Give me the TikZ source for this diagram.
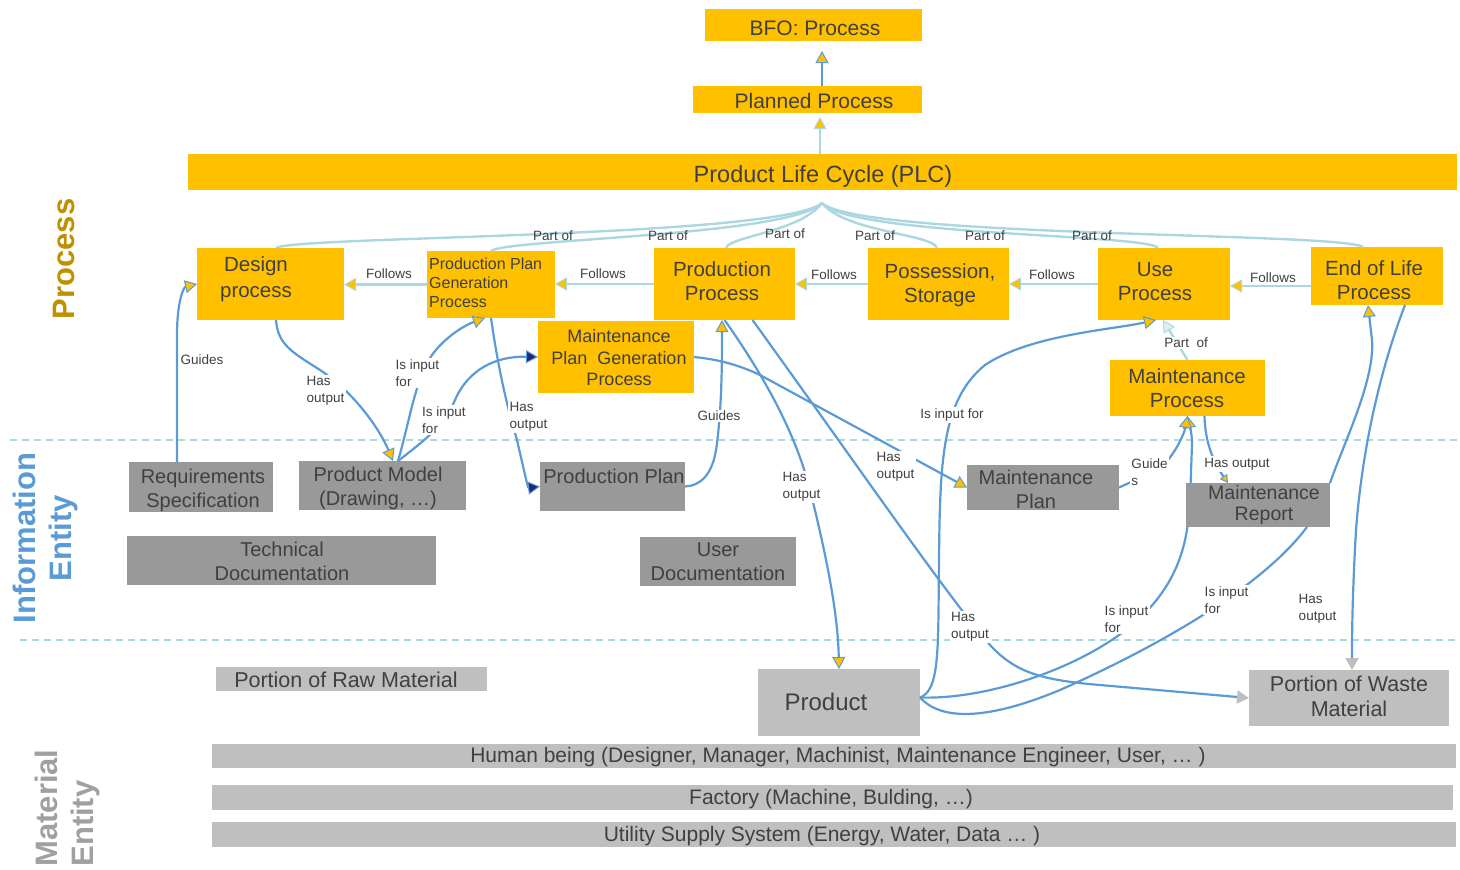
\documentclass[tikz,border=0pt]{standalone}
\usepackage{fontspec}
\setmainfont{Liberation Sans}
\usetikzlibrary{arrows.meta,calc}

\definecolor{boxY}{HTML}{FFC000}
\definecolor{boxG}{HTML}{999999}
\definecolor{boxL}{HTML}{BFBFBF}
\definecolor{txt}{HTML}{404040}
\definecolor{lnB}{HTML}{5B9BD5}
\definecolor{lnL}{HTML}{ABD7E0}
\definecolor{tipN}{HTML}{1F2A7A}
\definecolor{lblP}{HTML}{BF9000}
\definecolor{lblI}{HTML}{5B9BD5}
\definecolor{lblM}{HTML}{A0A0A0}

% font sizes (1pt = 1 unit of the drawing grid)
\newcommand\fntTop{\fontsize{21}{25}\selectfont}
\newcommand\fntPLC{\fontsize{23.5}{28}\selectfont}
\newcommand\fntA{\fontsize{20.5}{24}\selectfont}
\newcommand\fntPP{\fontsize{16}{19}\selectfont}
\newcommand\fntMP{\fontsize{18}{21.5}\selectfont}
\newcommand\fntG{\fontsize{20}{24}\selectfont}
\newcommand\fntRep{\fontsize{19.5}{21}\selectfont}
\newcommand\fntWaste{\fontsize{21.5}{25}\selectfont}
\newcommand\fntProd{\fontsize{24}{28}\selectfont}
\newcommand\fntBar{\fontsize{21}{24}\selectfont}
\newcommand\fntRaw{\fontsize{21.5}{24}\selectfont}
\newcommand\fntLbl{\fontsize{13.5}{16.5}\selectfont}
\newcommand\fntSide{\fontsize{31}{36}\selectfont\bfseries}

\begin{document}
\begin{tikzpicture}[x=1pt,y=-1pt,
  box/.style={inner sep=0pt,outer sep=0pt},
  ybox/.style={box,fill=boxY},
  gbox/.style={box,fill=boxG},
  lbox/.style={box,fill=boxL},
  tx/.style={text=txt,align=center,inner sep=0pt,font=\fntA},
  conn/.style={draw=lnB,line width=2.2pt},
  pale/.style={draw=lnL,line width=2.4pt},
  lbl/.style={font=\fntLbl,text=txt,fill=white,inner sep=1.5pt,align=left},
  plbl/.style={font=\fntLbl,text=txt,inner sep=0pt},
  sep/.style={draw=lnL,line width=1.6pt,dash pattern=on 7pt off 5pt},
  TY/.tip={Triangle[length=12pt,width=13pt,fill=boxY,line width=1pt]},
  TS/.tip={Triangle[length=8pt,width=9pt,fill=boxY,line width=1pt]},
  TN/.tip={Triangle[length=12pt,width=13pt,fill=tipN,line width=1pt]},
  TG/.tip={Triangle[length=12pt,width=13pt,fill=boxL,color=boxL]},
  TP/.tip={Triangle[length=12pt,width=13pt,fill=lnL!40,line width=1pt]},
]
\useasboundingbox (0,0) rectangle (1460,870);

% ---------- layer separators ----------
\coordinate (sepA1) at (10,440);  \coordinate (sepA2) at (1460,440);
\coordinate (sepB1) at (20,640);  \coordinate (sepB2) at (1460,640);
\draw[sep] (sepA1) -- (sepA2);
\draw[sep] (sepB1) -- (sepB2);

% ---------- side captions ----------
\node[rotate=90,font=\fntSide,text=lblP,inner sep=0pt] (sideP) at (64,259) {Process};
\node[rotate=90,font=\fntSide,text=lblI,align=center,inner sep=0pt] (sideI) at (45,538) {Information\\Entity};
\node[rotate=90,font=\fntSide,text=lblM,align=left,inner sep=0pt] (sideM) at (67,808) {Material\\Entity};

% ---------- process boxes ----------
\node[ybox,minimum width=217pt,minimum height=32pt] (bfo) at (813.5,25) {};
\node[ybox,minimum width=229pt,minimum height=27pt] (planned) at (807.5,99.5) {};
\node[ybox,minimum width=1269pt,minimum height=36pt] (plc) at (822.5,172) {};
\node[ybox,minimum width=147pt,minimum height=72pt] (design) at (270.5,284) {};
\node[ybox,minimum width=128pt,minimum height=67pt] (ppgp) at (491,284.5) {};
\node[ybox,minimum width=141pt,minimum height=72pt] (production) at (724.5,284) {};
\node[ybox,minimum width=141pt,minimum height=72pt] (possession) at (938.5,284) {};
\node[ybox,minimum width=132pt,minimum height=72pt] (use) at (1164,284) {};
\node[ybox,minimum width=132pt,minimum height=58pt] (eol) at (1377,276) {};
\node[ybox,minimum width=156pt,minimum height=72pt] (mpgp) at (616,357) {};
\node[ybox,minimum width=155pt,minimum height=56pt] (mproc) at (1187.5,388) {};

% ---------- information entities ----------
\node[gbox,minimum width=144pt,minimum height=50pt] (req) at (201,487) {};
\node[gbox,minimum width=167pt,minimum height=49pt] (pm) at (382.5,485.5) {};
\node[gbox,minimum width=145pt,minimum height=49pt] (pplan) at (612.5,486.5) {};
\node[gbox,minimum width=309pt,minimum height=49pt] (techdoc) at (281.5,560.5) {};
\node[gbox,minimum width=156pt,minimum height=49pt] (userdoc) at (718,561.5) {};
\node[gbox,minimum width=152pt,minimum height=45pt] (mplan) at (1043,487.5) {};

% ---------- material entities ----------
\node[lbox,minimum width=271pt,minimum height=24pt] (raw) at (351.5,679) {};
\node[lbox,minimum width=162pt,minimum height=67pt] (product) at (839,702.5) {};
\node[lbox,minimum width=200pt,minimum height=56pt] (waste) at (1349,698) {};
\node[lbox,minimum width=1244pt,minimum height=24pt] (human) at (834,756) {};
\node[lbox,minimum width=1241pt,minimum height=25pt] (factory) at (832.5,797.5) {};
\node[lbox,minimum width=1244pt,minimum height=25pt] (utility) at (834,834.5) {};

% ---------- box texts ----------
\node[tx,font=\fntTop] (t-bfo) at (815,28.5) {BFO: Process};
\node[tx,font=\fntTop] (t-planned) at (814,100.5) {Planned Process};
\node[tx,font=\fntPLC] (t-plc) at (823,176.5) {Product Life Cycle (PLC)};
\node[tx,font=\fontsize{20.5}{26}\selectfont] (t-design) at (256,279.5) {Design\\process};
\node[tx,font=\fntPP,align=left,anchor=west] (t-ppgp) at (429,282.5) {Production Plan\\Generation\\Process};
\node[tx] (t-production) at (722,281.5) {Production\\Process};
\node[tx] (t-possession) at (940,285) {Possession,\\Storage};
\node[tx] (t-use) at (1155,282) {Use\\Process};
\node[tx] (t-eol) at (1374,280.5) {End of Life\\Process};
\node[tx,font=\fntMP] (t-mpgp) at (619,358) {Maintenance\\Plan\ \ Generation\\Process};
\node[tx] (t-mproc) at (1187,388.5) {Maintenance\\Process};
\node[tx,font=\fntG] (t-req) at (203,490) {Requirements\\Specification};
\node[tx,font=\fntG] (t-pm) at (378,488) {Product Model\\(Drawing, …)};
\node[tx,font=\fntG] (t-pplan) at (614,476) {Production Plan};
\node[tx,font=\fntG] (t-techdoc) at (282,561.5) {Technical\\Documentation};
\node[tx,font=\fntG] (t-userdoc) at (718,562) {User\\Documentation};
\node[tx,font=\fntG] (t-mplan) at (1036,489.5) {Maintenance\\Plan};
\node[tx,font=\fntRaw] (t-raw) at (346,680) {Portion of Raw Material};
\node[tx,font=\fntProd] (t-product) at (826,701.5) {Product};
\node[tx,font=\fntWaste] (t-waste) at (1349,696.5) {Portion of Waste\\Material};
\node[tx,font=\fntBar] (t-human) at (838,757) {Human being (Designer, Manager, Machinist, Maintenance Engineer, User, … )};
\node[tx,font=\fntBar] (t-factory) at (831,799) {Factory (Machine, Bulding, …)};
\node[tx,font=\fntBar] (t-utility) at (822,836) {Utility Supply System (Energy, Water, Data … )};

% ---------- product -> maintenance process (runs behind the report box) ----------
\draw[conn,-TY] ([yshift=5pt]product.east) .. controls (990,700) and (1090,665) .. (1140,618)
  .. controls (1180,580) and (1188,540) .. (1190,500) -- (1192,445)
  .. controls (1192,430) and (1189,425) .. (mproc.south);

\node[gbox,minimum width=144pt,minimum height=44pt] (mreport) at (1258,505) {};
\node[tx,font=\fntRep] (t-mreport) at (1264,505) {Maintenance\\Report};

% ---------- is-a chain ----------
\coordinate (axisA) at (822,0);
\coordinate (axisB) at (820,0);
\draw[conn,-TY,shorten >=10pt] (planned.north -| axisA) -- (bfo.south -| axisA);
\draw[pale,-TY,shorten >=4pt] (plc.north -| axisB) -- (planned.south -| axisB);

% ---------- part-of fan into the life cycle ----------
\coordinate (apex) at (822,203);
\draw[pale] ([xshift=5.5pt]design.north) .. controls (292,236) and (780,238) .. (apex);
\draw[pale] (ppgp.north) .. controls (505,239) and (790,236) .. (apex);
\draw[pale] ([xshift=1.5pt]production.north) .. controls (730,236) and (800,232) .. (apex);
\draw[pale] ([xshift=-1.5pt]possession.north) .. controls (933,234) and (845,232) .. (apex);
\draw[pale] ([xshift=-6pt]use.north) .. controls (1150,234) and (850,236) .. (apex);
\draw[pale] ([xshift=-14pt]eol.north) .. controls (1340,232) and (860,238) .. (apex);
\node[plbl] (po1) at (553,236) {Part of};
\node[plbl] (po2) at (668,236) {Part of};
\node[plbl] (po3) at (785,234) {Part of};
\node[plbl] (po4) at (875,236) {Part of};
\node[plbl] (po5) at (985,236) {Part of};
\node[plbl] (po6) at (1092,236) {Part of};

% ---------- follows chain ----------
\coordinate (f5s) at ([yshift=-10pt]eol.west);
\draw[pale,-TY] (ppgp.west) -- (design.east |- ppgp.west);
\draw[pale,-TY] (production.west) -- (ppgp.east |- production.west);
\draw[pale,-TY] (possession.west) -- (production.east |- possession.west);
\draw[pale,-TY] (use.west) -- (possession.east |- use.west);
\draw[pale,-TY] (f5s) -- (use.east |- f5s);
\node[lbl] (fo1) at (389,274) {Follows};
\node[lbl] (fo2) at (603,274) {Follows};
\node[lbl] (fo3) at (834,275) {Follows};
\node[lbl] (fo4) at (1052,275) {Follows};
\node[lbl] (fo5) at (1273,278) {Follows};

% ---------- relations ----------
% requirements guide design
\draw[conn,-TY] ([xshift=-24pt]req.north) -- (177,335) .. controls (177,300) and (184,287) .. (design.west);
% design has output product model
\draw[conn,-TY] ([xshift=5.5pt]design.south) .. controls (278,345) and (292,352) .. (320,370)
  .. controls (355,393) and (380,430) .. ([xshift=10.5pt]pm.north);
% product model is input for production plan generation
\draw[conn,-TY] ([xshift=15.5pt]pm.north) .. controls (410,420) and (415,380) .. (432,355)
  .. controls (445,337) and (465,325) .. ([xshift=-6pt]ppgp.south);
% product model is input for maintenance plan generation
\draw[conn,-TN] ([xshift=15.5pt]pm.north) .. controls (425,440) and (445,425) .. (455,400)
  .. controls (468,370) and (495,356) .. (mpgp.west);
% production plan generation has output production plan
\draw[conn,-TN] (ppgp.south) .. controls (497,360) and (505,400) .. (517,440)
  .. controls (525,475) and (528,488) .. (pplan.west);
% production plan guides production
\draw[conn,-TY] (pplan.east) .. controls (700,486) and (712,475) .. (716,450)
  .. controls (722,410) and (722,360) .. ([xshift=-2.5pt]production.south);
% production has output product
\draw[conn,-TY] (production.south) .. controls (760,370) and (795,430) .. (810,490)
  .. controls (830,570) and (838,620) .. (product.north);
% production has output waste
\draw[conn,-TG] ([xshift=28pt]production.south) .. controls (850,455) and (950,600) .. (990,645)
  .. controls (1015,672) and (1040,680) .. (1100,685) -- (waste.west);
% maintenance plan generation has output maintenance plan
\draw[conn,-TY] (mpgp.east) .. controls (725,360) and (745,368) .. (760,375) -- (mplan.west);
% product is input for use
\draw[conn,-TY] ([yshift=5pt]product.east) .. controls (940,690) and (938,650) .. (939,560)
  .. controls (940,460) and (942,400) .. (985,365)
  .. controls (1030,335) and (1110,330) .. ([xshift=-8pt]use.south);
% maintenance is part of use
\draw[pale,-TP] (mproc.north) -- ([xshift=-1pt]use.south);
% maintenance plan guides maintenance
\draw[conn,-TY] (mplan.east) .. controls (1140,478) and (1160,470) .. (1168,460)
  .. controls (1180,445) and (1185,430) .. (mproc.south);
% maintenance has output maintenance report
\draw[conn,-TS] ([xshift=17pt]mproc.south) .. controls (1205,440) and (1212,460) .. ([xshift=-30pt]mreport.north);
% maintenance report and product
\draw[conn] ([xshift=49pt]mreport.south) .. controls (1260,590) and (1150,650) .. (1060,690)
  .. controls (1000,715) and (945,725) .. ([yshift=5pt]product.east);
% maintenance report to end of life
\draw[conn,-TY] (mreport.north east) .. controls (1345,440) and (1375,380) .. (1372,340) -- ([xshift=-9pt]eol.south);
% end of life has output waste
\draw[conn,-TG] ([xshift=28pt]eol.south) .. controls (1380,370) and (1362,450) .. (1356,530)
  .. controls (1352,600) and (1352,640) .. ([xshift=3pt]waste.north);

% ---------- relation labels ----------
\node[plbl] (g1) at (202,360) {Guides};
\node[lbl] (h1) at (325.5,391) {Has\\output};
\node[lbl] (i1) at (417.5,373) {Is input\\for};
\node[lbl] (i2) at (444,420) {Is input\\for};
\node[lbl] (h2) at (528.5,417) {Has\\output};
\node[lbl] (g2) at (719,416) {Guides};
\node[lbl] (h3) at (801.5,487) {Has\\output};
\node[lbl] (h4) at (895.5,467) {Has\\output};
\node[lbl] (i3) at (952,415) {Is input for};
\node[lbl] (h5) at (970,627) {Has\\output};
\node[lbl] (p7) at (1186,343) {Part\ \ of};
\node[lbl] (g3) at (1149.5,472) {Guide\\s};
\node[lbl] (h6) at (1237,464) {Has output};
\node[lbl] (i4) at (1126.5,619) {Is input\\for};
\node[lbl] (i5) at (1226.5,600) {Is input\\for};
\node[lbl] (h7) at (1317.5,609) {Has\\output};
\end{tikzpicture}
\end{document}
